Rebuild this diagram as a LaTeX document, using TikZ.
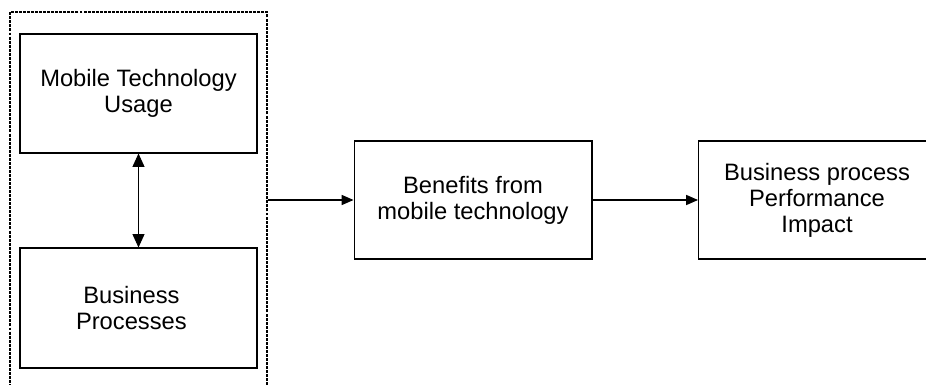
\documentclass[tikz,border=0pt]{standalone}
\usepackage{fontspec}
\setmainfont{Liberation Sans}
\usetikzlibrary{arrows.meta}

\begin{document}
\begin{tikzpicture}[x=0.02cm, y=-0.02cm, line width=0.6pt]
	% Stili
	\tikzset{blocco/.style={rectangle, draw, align=center, inner sep=2pt,
			font=\fontsize{13.5}{14.8}\selectfont},
		freccia/.style={-{Triangle[length=6.8pt, width=5.8pt]}},
		doppia/.style={{Triangle[length=7.6pt, width=6.8pt]}-{Triangle[length=7.6pt, width=6.8pt]}},
		cornice/.style={rectangle, draw, line width=1.1pt, dash pattern=on 1.7pt off 0.6pt}}
	
	% Area visibile
	\useasboundingbox (0,0) rectangle (926,385);
	\clip (0,0) rectangle (926,385);
	
	% Cornice tratteggiata
	\node[cornice, minimum width=5.14cm, minimum height=7.66cm] (gruppo) at (138.5,203.5) {};
	
	% Blocchi
	\node[blocco, minimum width=4.74cm, minimum height=2.38cm] (uso) at (138.5,93.5) {Mobile Technology\\Usage};
	\node[blocco, minimum width=4.74cm, minimum height=2.4cm] (processi) at (138.5,308) {Business\hspace*{0.6em}\\Processes\hspace*{0.6em}};
	\node[blocco, minimum width=4.76cm, minimum height=2.36cm] (benefici) at (473,200) {Benefits from\\mobile technology};
	\node[blocco, minimum width=4.74cm, minimum height=2.36cm] (impatto) at (817,200) {Business process\\Performance\\Impact};
	
	% Frecce
	\draw[doppia] (uso) -- (processi);
	\draw[freccia] (benefici.west -| gruppo.east) -- (benefici.west);
	\draw[freccia] (benefici) -- (impatto);
\end{tikzpicture}
\end{document}
